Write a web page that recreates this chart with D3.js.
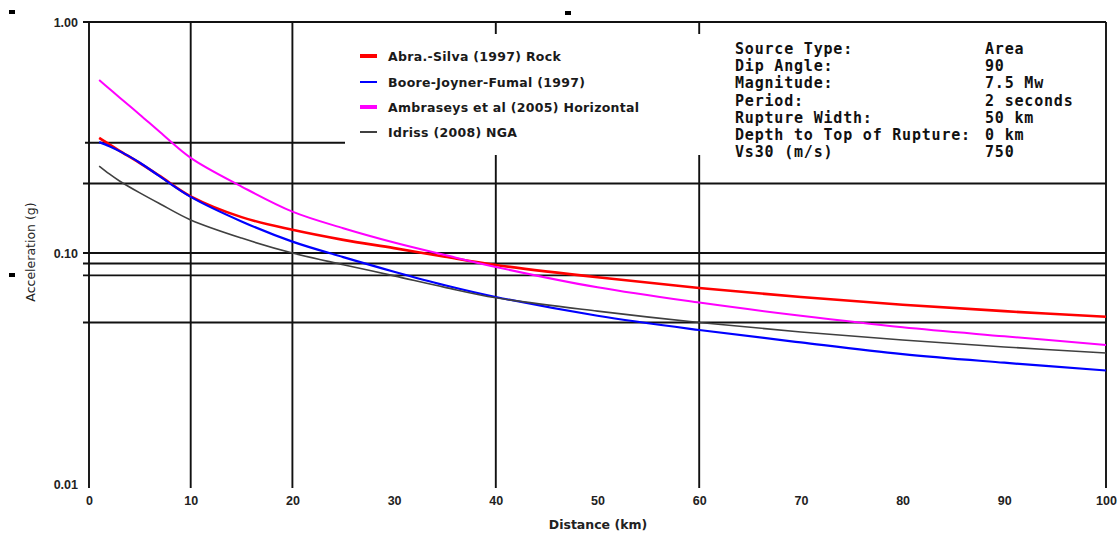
<!DOCTYPE html>
<html><head><meta charset="utf-8">
<script src="https://cdn.jsdelivr.net/npm/d3@7"></script>
<style>
html,body{margin:0;padding:0;background:#fff;}
svg{display:block;}
</style></head>
<body>
<svg id="chart" width="1120" height="533"></svg>
<script>
// ---- data ----
const distances = [1, 2, 3, 5, 7, 10, 15, 20, 25, 30, 35, 40, 50, 60, 70, 80, 90, 100];
const abraSilva  = [0.315, 0.295, 0.277, 0.245, 0.215, 0.176, 0.143, 0.126, 0.114, 0.105, 0.0963, 0.0888, 0.0785, 0.0705, 0.0645, 0.0597, 0.0560, 0.0530];
const booreJF    = [0.302, 0.290, 0.276, 0.246, 0.214, 0.175, 0.137, 0.112, 0.096, 0.083, 0.0725, 0.0645, 0.0535, 0.0464, 0.0410, 0.0365, 0.0335, 0.0310];
const ambraseys  = [0.561, 0.514, 0.471, 0.397, 0.333, 0.258, 0.194, 0.151, 0.128, 0.111, 0.098, 0.087, 0.071, 0.061, 0.0535, 0.0477, 0.0436, 0.0400];
const idriss     = [0.238, 0.220, 0.205, 0.182, 0.163, 0.139, 0.116, 0.100, 0.089, 0.0796, 0.071, 0.064, 0.056, 0.0500, 0.0455, 0.0420, 0.0392, 0.0369];
const seriesNames = ["Abra.-Silva (1997) Rock", "Boore-Joyner-Fumal (1997)", "Ambraseys et al (2005) Horizontal", "Idriss (2008) NGA"];
const xTicks = [0, 10, 20, 30, 40, 50, 60, 70, 80, 90, 100];
const yTicks = [1, 0.1, 0.01];
const xGrid = [0, 10, 20, 40, 60, 100];
const yGridFull = [1, 0.2, 0.1, 0.09, 0.08, 0.05];
const yGridShort = [0.3];
const infoLabels = ["Source Type:", "Dip Angle:", "Magnitude:", "Period:", "Rupture Width:", "Depth to Top of Rupture:", "Vs30 (m/s)"];
const infoValues = ["Area", "90", "7.5 Mw", "2 seconds", "50 km", "0 km", "750"];

// ---- layout ----
const svg = d3.select("#chart");
const x = d3.scaleLinear().domain([0, 100]).range([89, 1106]);
const y = d3.scaleLog().domain([0.01, 1]).range([484, 22]);

const series = [
  {name: seriesNames[0], vals: abraSilva, color: "#ff0000", w: 2.6, lw: 4},
  {name: seriesNames[1], vals: booreJF,   color: "#0000ff", w: 2.2, lw: 2},
  {name: seriesNames[2], vals: ambraseys, color: "#ff00ff", w: 2.0, lw: 4},
  {name: seriesNames[3], vals: idriss,    color: "#404040", w: 1.6, lw: 2}
];

// grid
const g = svg.append("g");
g.selectAll("line.vg").data(xGrid).enter().append("line")
  .attr("x1", d => x(d)).attr("x2", d => x(d))
  .attr("y1", y(1)).attr("y2", 488)
  .attr("stroke", "#111").attr("stroke-width", 1.9);
g.selectAll("line.hg").data(yGridFull).enter().append("line")
  .attr("x1", 83).attr("x2", x(100))
  .attr("y1", d => y(d)).attr("y2", d => y(d))
  .attr("stroke", "#111").attr("stroke-width", 1.9);
g.selectAll("line.hs").data(yGridShort).enter().append("line")
  .attr("x1", 85).attr("x2", 345)
  .attr("y1", d => y(d)).attr("y2", d => y(d))
  .attr("stroke", "#111").attr("stroke-width", 1.9);

// white box for legend + info
svg.append("rect").attr("x", 346).attr("y", 34).attr("width", 756).attr("height", 121).attr("fill", "#fff");

// curves
const line = d3.line().curve(d3.curveCatmullRom.alpha(0.5));
series.forEach(s => {
  svg.append("path")
    .attr("d", line(distances.map((d, i) => [x(d), y(s.vals[i])])))
    .attr("fill", "none").attr("stroke", s.color).attr("stroke-width", s.w);
});

// axes
const yAxis = svg.append("g").attr("transform", `translate(${x(0)},0)`)
  .call(d3.axisLeft(y).tickValues(yTicks).tickFormat(d3.format(".2f")).tickSize(0).tickPadding(11));
yAxis.select(".domain").remove();
yAxis.selectAll("text").attr("font-family", "Liberation Sans, Arial, sans-serif").attr("font-size", 12.5).attr("font-weight", "bold").attr("fill", "#222");

const xAxis = svg.append("g").attr("transform", `translate(0,${y(0.01)})`)
  .call(d3.axisBottom(x).tickValues(xTicks).tickFormat(d3.format("d")).tickSize(0).tickPadding(12));
xAxis.select(".domain").remove();
xAxis.selectAll("text").attr("font-family", "Liberation Sans, Arial, sans-serif").attr("font-size", 12.5).attr("font-weight", "bold").attr("fill", "#222");

svg.append("text").attr("x", 598).attr("y", 529).attr("text-anchor", "middle")
  .attr("font-family", "DejaVu Sans, Verdana, sans-serif").attr("font-size", 12.5).attr("font-weight", "bold").attr("fill", "#222")
  .text("Distance (km)");
svg.append("text").attr("transform", "translate(35,252) rotate(-90)").attr("text-anchor", "middle")
  .attr("font-family", "DejaVu Sans, Verdana, sans-serif").attr("font-size", 12.5).attr("fill", "#222")
  .text("Acceleration (g)");

// legend
const leg = svg.append("g");
const legY = [56, 82, 107, 132];
series.forEach((s, i) => {
  leg.append("line").attr("x1", 360).attr("x2", 377).attr("y1", legY[i]).attr("y2", legY[i])
    .attr("stroke", s.color).attr("stroke-width", s.lw);
  leg.append("text").attr("x", 388).attr("y", legY[i] + 4.5)
    .attr("font-family", "DejaVu Sans, Verdana, sans-serif").attr("font-size", 12.5).attr("font-weight", "bold")
    .attr("letter-spacing", 0.3).attr("fill", "#1a1a1a")
    .text(s.name);
});

// info block
const info = svg.append("g").attr("font-family", "DejaVu Sans Mono, monospace").attr("font-size", 15)
  .attr("font-weight", "bold").attr("fill", "#111").attr("letter-spacing", 0.8);
infoLabels.forEach((t, i) => {
  info.append("text").attr("x", 735).attr("y", 54 + i * 17.2).text(t);
  info.append("text").attr("x", 985).attr("y", 54 + i * 17.2).text(infoValues[i]);
});

// small marker squares
[[9, 10], [565, 11], [9, 273]].forEach(p => {
  svg.append("rect").attr("x", p[0]).attr("y", p[1]).attr("width", 6).attr("height", 4).attr("fill", "#000");
});
</script>
</body></html>
